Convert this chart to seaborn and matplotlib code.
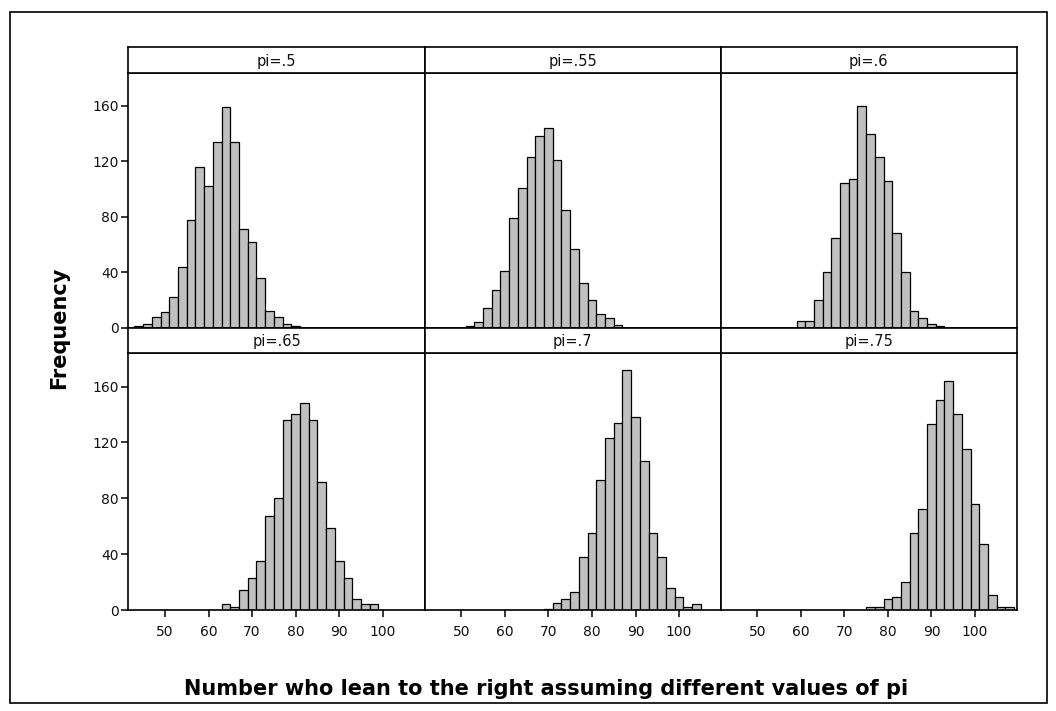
import numpy as np
import pandas as pd
import matplotlib
matplotlib.use("Agg")
import matplotlib.pyplot as plt
from matplotlib.patches import Rectangle
import seaborn as sns

sns.set_theme(style="white")
plt.rcParams["font.family"] = ["DejaVu Sans"]

# Simulated counts of people leaning right (n = 128) for several values of pi.
# Each series: centre of its first bin, then counts for consecutive bins of width 2.
panel_labels = ["pi=.5", "pi=.55", "pi=.6", "pi=.65", "pi=.7", "pi=.75"]

pi50_start = 44
pi50_counts = [1, 3, 8, 11, 22, 44, 78, 116, 102, 134, 159, 134, 71, 62, 36, 12, 8, 3, 1]
pi55_start = 52
pi55_counts = [1, 4, 14, 27, 41, 79, 101, 123, 138, 144, 121, 85, 57, 32, 20, 10, 7, 2]
pi60_start = 60
pi60_counts = [5, 5, 20, 40, 65, 104, 107, 160, 140, 123, 106, 68, 40, 12, 7, 3, 1]
pi65_start = 64
pi65_counts = [4, 2, 14, 23, 35, 67, 80, 136, 140, 148, 136, 92, 59, 35, 23, 8, 4, 4]
pi70_start = 70
pi70_counts = [1, 5, 8, 13, 38, 55, 93, 123, 134, 172, 138, 107, 55, 38, 16, 9, 2, 4]
pi75_start = 76
pi75_counts = [2, 2, 8, 9, 20, 55, 72, 133, 150, 164, 140, 115, 76, 47, 11, 2, 2]

x_ticks = [50, 60, 70, 80, 90, 100]
y_ticks = [0, 40, 80, 120, 160]

x_label = "Number who lean to the right assuming different values of pi"
y_label = "Frequency"

starts = [pi50_start, pi55_start, pi60_start, pi65_start, pi70_start, pi75_start]
counts = [pi50_counts, pi55_counts, pi60_counts, pi65_counts, pi70_counts, pi75_counts]

rows = []
for lab, s, c in zip(panel_labels, starts, counts):
    for i, n in enumerate(c):
        rows.append({"pi": lab, "value": float(s + 2 * i), "count": float(n)})
df = pd.DataFrame(rows)

W, H = 1056, 711
fig = plt.figure(figsize=(W / 100, H / 100), dpi=100)
fig.patch.set_facecolor("white")


def add_px_axes(x0, y0, x1, y1):
    return fig.add_axes([x0 / W, 1 - y1 / H, (x1 - x0) / W, (y1 - y0) / H])


col_edges = [128.3, 424.7, 720.9, 1016.7]
plot_rows = [(72.5, 327.7), (353.0, 610.0)]
strip_rows = [(47.0, 72.5), (327.7, 353.0)]

lw_frame = 1.2
for k, lab in enumerate(panel_labels):
    r, c = divmod(k, 3)
    x0, x1 = col_edges[c], col_edges[c + 1]
    y0, y1 = plot_rows[r]
    ax = add_px_axes(x0, y0, x1, y1)
    sub = df[df["pi"] == lab]
    sns.histplot(data=sub, x="value", weights="count",
                 binwidth=2, binrange=(43, 109),
                 color="#c0c0c0", edgecolor="black", linewidth=0.9,
                 alpha=1, ax=ax)
    ax.set_xlim(41.6, 109.6)
    ax.set_ylim(0, 184)
    ax.set_xlabel("")
    ax.set_ylabel("")
    ax.set_facecolor("white")
    for sp in ax.spines.values():
        sp.set_color("black")
        sp.set_linewidth(lw_frame)
        sp.set_visible(True)
    ax.tick_params(direction="out", length=5, width=1.1, color="black",
                   labelsize=10, labelcolor="#111111")
    if c == 0:
        ax.set_yticks(y_ticks)
        ax.tick_params(axis="y", left=True, pad=2)
    else:
        ax.set_yticks([])
    if r == 1:
        ax.set_xticks(x_ticks)
        ax.tick_params(axis="x", bottom=True, pad=6)
    else:
        ax.set_xticks([])

    # facet strip with the pi value
    sy0, sy1 = strip_rows[r]
    sax = add_px_axes(x0, sy0, x1, sy1)
    sax.set_xticks([])
    sax.set_yticks([])
    sax.set_facecolor("white")
    for sp in sax.spines.values():
        sp.set_color("black")
        sp.set_linewidth(lw_frame)
    sax.text(0.5, 0.45, lab, ha="center", va="center", fontsize=10.5,
             color="#111111", transform=sax.transAxes)

fig.text(546 / W, 1 - 689 / H, x_label, ha="center", va="center",
         fontsize=15, fontweight="bold", color="black")
fig.text(59 / W, 1 - 328 / H, y_label, ha="center", va="center",
         rotation=90, fontsize=15, fontweight="bold", color="black")

# outer frame around the whole graph
fig.patches.append(Rectangle((10 / W, 1 - 703 / H), 1037 / W, 691 / H,
                             transform=fig.transFigure, fill=False,
                             edgecolor="black", linewidth=1.2))

fig.savefig("out.png", dpi=100)
